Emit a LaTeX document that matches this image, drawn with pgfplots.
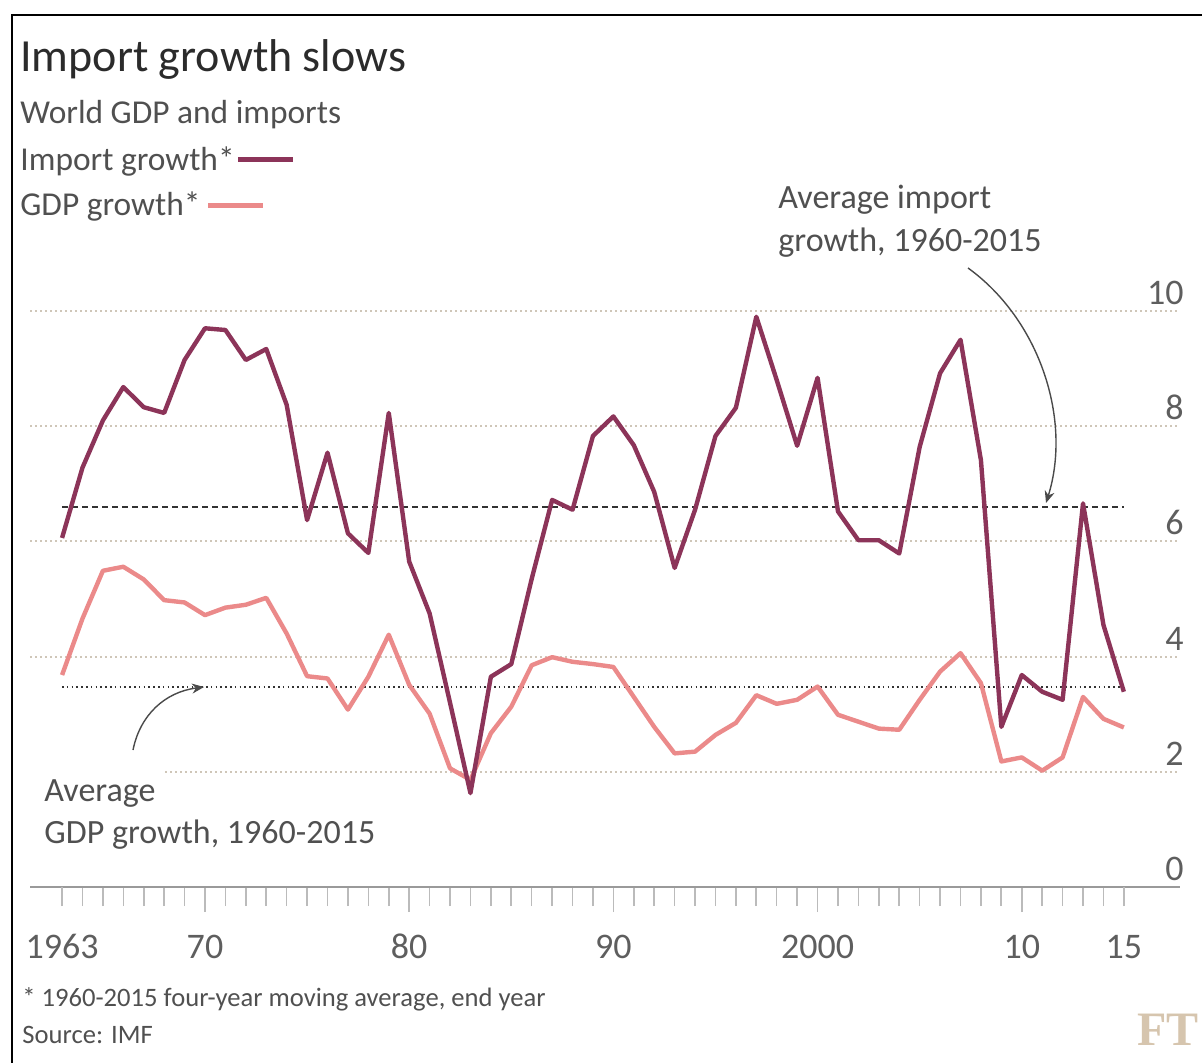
\documentclass[border=0pt]{standalone}
\usepackage{pgfplots}
\pgfplotsset{compat=1.18}
\usepackage{fontspec}
\setmainfont{Carlito}
\newfontfamily\ftfont{Liberation Serif}
\usetikzlibrary{arrows.meta}
\definecolor{imp}{HTML}{8C3459}
\definecolor{gdp}{HTML}{EB8A8A}
\definecolor{gridc}{HTML}{CFC6B8}
\definecolor{txt}{HTML}{2B2B2B}
\definecolor{sub}{HTML}{505050}
\definecolor{tickc}{HTML}{5E5E5E}
\definecolor{tickl}{HTML}{BBBBBB}
\definecolor{basel}{HTML}{9A9A9A}
\definecolor{ftc}{HTML}{D6C5AE}
\definecolor{arr}{HTML}{4A4A4A}

\pgfplotstableread{
year imp gdp
1963 6.06 3.68
1964 7.28 4.66
1965 8.10 5.49
1966 8.68 5.56
1967 8.33 5.34
1968 8.23 4.98
1969 9.15 4.94
1970 9.70 4.72
1971 9.67 4.85
1972 9.15 4.90
1973 9.34 5.02
1974 8.37 4.40
1975 6.37 3.66
1976 7.54 3.62
1977 6.14 3.08
1978 5.80 3.65
1979 8.23 4.38
1980 5.65 3.51
1981 4.75 3.01
1982 3.20 2.06
1983 1.63 1.86
1984 3.65 2.67
1985 3.87 3.13
1986 5.35 3.85
1987 6.72 3.99
1988 6.55 3.91
1989 7.83 3.87
1990 8.17 3.82
1991 7.67 3.30
1992 6.86 2.78
1993 5.54 2.32
1994 6.55 2.35
1995 7.83 2.64
1996 8.32 2.85
1997 9.90 3.33
1998 8.80 3.18
1999 7.66 3.25
2000 8.84 3.48
2001 6.52 2.99
2002 6.02 2.87
2003 6.02 2.75
2004 5.79 2.73
2005 7.64 3.25
2006 8.92 3.74
2007 9.50 4.06
2008 7.41 3.54
2009 2.78 2.18
2010 3.68 2.25
2011 3.39 2.02
2012 3.25 2.25
2013 6.66 3.30
2014 4.55 2.92
2015 3.39 2.77
}\datatable

\begin{document}
\begin{tikzpicture}
\begin{axis}[
  at={(15pt,-443.5pt)}, anchor=south west,
  scale only axis, width=575pt, height=302.4pt,
  xmin=1961.43, xmax=2017.75, ymin=0, ymax=10.5,
  clip=false,
  axis x line*=bottom, axis y line*=right,
  x axis line style={draw=basel, line width=1pt},
  y axis line style={draw=none},
  tick align=outside,
  major tick length=12.5pt, minor tick length=9.5pt,
  xtick={1970,1980,1990,2000,2010},
  xticklabels={70,80,90,2000,10},
  extra x ticks={1963,2015},
  extra x tick labels={1963,15},
  extra x tick style={major tick length=9.5pt, xticklabel style={yshift=-3pt}},
  minor xtick={1963,...,2015},
  xtick style={draw=tickl, line width=0.8pt},
  minor x tick style={draw=tickl, line width=0.8pt},
  xticklabel style={font=\fontsize{18}{18}\selectfont, text=tickc, anchor=base, yshift=-23pt},
  ytick={0,2,4,6,8,10},
  ytick style={draw=none},
  yticklabel style={/pgf/number format/assume math mode=true, font=\fontsize{18}{18}\selectfont, text=tickc, anchor=south east, inner sep=0pt, xshift=-10.5pt, yshift=3pt},
  ymajorgrids,
  grid style={draw=gridc, line width=1pt, dash pattern=on 1pt off 1.5pt},
]
\addplot[black!80, line width=0.7pt, dash pattern=on 3pt off 2pt, forget plot] coordinates {(1963,6.60) (2015,6.60)};
\addplot[black!80, line width=0.8pt, dash pattern=on 0.8pt off 1.6pt, forget plot] coordinates {(1963,3.47) (2015,3.47)};
\addplot[gdp, line width=2.2pt, line join=round] table[x=year, y=gdp] {\datatable};
\addplot[imp, line width=2.2pt, line join=round] table[x=year, y=imp] {\datatable};
\end{axis}
\begin{scope}[x=0.5pt,y=-0.5pt]
\draw[black, line width=1pt] (12,1063) -- (12,15) -- (1202,15);
\node[anchor=base west, inner sep=0pt, font=\fontsize{23}{23}\selectfont, text=txt] at (20,72) {Import growth slows};
\node[anchor=base west, inner sep=0pt, font=\fontsize{16.7}{16.7}\selectfont, text=sub] at (20,124) {World GDP and imports};
\node[anchor=base west, inner sep=0pt, font=\fontsize{16.7}{16.7}\selectfont, text=sub] at (20,171) {Import growth*};
\node[anchor=base west, inner sep=0pt, font=\fontsize{16.7}{16.7}\selectfont, text=sub] at (20,216) {GDP growth*};
\draw[imp, line width=2.5pt] (238,160) -- (293,160);
\draw[gdp, line width=2.5pt] (208,206) -- (263,206);
\node[anchor=base west, inner sep=0pt, font=\fontsize{17}{17}\selectfont, text=sub] at (778,209) {Average import};
\node[anchor=base west, inner sep=0pt, font=\fontsize{17}{17}\selectfont, text=sub] at (778,252) {growth, 1960-2015};
\fill[white] (30,765) rectangle (163,780);
\node[anchor=base west, inner sep=0pt, font=\fontsize{17}{17}\selectfont, text=sub] at (44,801) {Average};
\node[anchor=base west, inner sep=0pt, font=\fontsize{17}{17}\selectfont, text=sub] at (44,843) {GDP growth, 1960-2015};
\draw[arr, line width=0.7pt, -{Stealth[length=6pt,width=5pt]}] (968,268) .. controls (1040,320) and (1072,420) .. (1046,503);
\draw[arr, line width=0.7pt, -{Stealth[length=6pt,width=5pt]}] (133,750) .. controls (140,715) and (165,692) .. (204,687);
\node[anchor=base west, inner sep=0pt, font=\fontsize{13.3}{13.3}\selectfont, text=sub] at (22,1006) {* 1960-2015 four-year moving average, end year};
\node[anchor=base west, inner sep=0pt, font=\fontsize{13.3}{13.3}\selectfont, text=sub] at (22,1043) {Source: IMF};
\node[anchor=base east, inner sep=0pt, font=\ftfont\bfseries\fontsize{24}{24}\selectfont, text=ftc] at (1199,1045) {FT};
\pgfresetboundingbox
\useasboundingbox (0,0) rectangle (1202,1063);
\end{scope}
\end{tikzpicture}
\end{document}
